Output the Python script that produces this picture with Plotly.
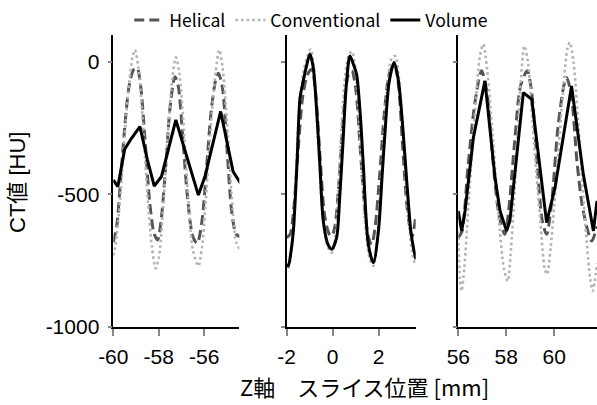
import plotly.graph_objects as go

# ---------------- data ----------------
# Panel 1 (around -58 mm)
p1_hel_x = [-60.0, -59.85, -59.7, -59.5, -59.3, -59.1, -58.95, -58.8, -58.6, -58.4, -58.2, -58.05,
            -57.9, -57.7, -57.5, -57.29, -57.15, -56.95, -56.75, -56.5, -56.31, -56.1, -55.9,
            -55.7, -55.5, -55.38, -55.2, -55.0, -54.8, -54.6, -54.42]
p1_hel_y = [-680, -620, -470, -250, -90, -30, -25, -90, -300, -530, -650, -672,
            -600, -400, -170, -57, -90, -280, -500, -660, -685, -600, -400,
            -190, -70, -44, -100, -330, -560, -650, -660]

p1_con_x = [-60.0, -59.9, -59.7, -59.5, -59.3, -59.15, -59.05, -58.9, -58.7, -58.5, -58.3, -58.14,
            -58.0, -57.8, -57.6, -57.4, -57.25, -57.1, -56.9, -56.7, -56.5, -56.26, -56.1,
            -55.9, -55.7, -55.5, -55.34, -55.2, -55.0, -54.8, -54.6, -54.42]
p1_con_y = [-730, -690, -520, -280, -80, 20, 44, -20, -230, -500, -700, -779,
            -740, -540, -270, -60, 16, -40, -250, -520, -710, -770, -700,
            -480, -230, -40, 44, -20, -230, -500, -680, -710]

p1_vol_x = [-60.0, -59.8, -59.5, -59.2, -58.83, -58.5, -58.2, -57.88, -57.25, -56.8, -56.26,
            -55.97, -55.28, -54.73, -54.4]
p1_vol_y = [-446, -471, -330, -289, -245, -370, -469, -433, -220, -345, -503,
            -433, -188, -415, -459]

# Panel 2 (around 0 mm)
p2_hel_x = [-2.0, -1.85, -1.7, -1.5, -1.3, -1.1, -0.91, -0.75, -0.55, -0.35, -0.15, -0.04,
            0.1, 0.3, 0.5, 0.68, 0.83, 1.0, 1.2, 1.4, 1.55, 1.7, 1.85, 2.05, 2.25, 2.45,
            2.67, 2.85, 3.05, 3.25, 3.45, 3.62]
p2_hel_y = [-663, -650, -560, -330, -130, -50, -29, -110, -360, -580, -650, -657,
            -620, -420, -170, -50, -35, -100, -330, -560, -660, -688, -620, -420, -190, -50,
            -10, -80, -330, -560, -660, -580]

p2_con_x = [-2.0, -1.93, -1.8, -1.65, -1.45, -1.25, -1.1, -0.96, -0.82, -0.65, -0.45, -0.25,
            -0.04, 0.12, 0.3, 0.5, 0.68, 0.83, 1.0, 1.2, 1.4, 1.6, 1.77, 1.95, 2.15, 2.35,
            2.55, 2.71, 2.88, 3.1, 3.3, 3.5, 3.62]
p2_con_y = [-760, -779, -720, -520, -180, -30, 20, 46, -20, -280, -560, -690,
            -720, -660, -380, -90, 20, 38, -40, -300, -600, -740, -770, -650, -380, -120,
            10, 21, -60, -330, -600, -740, -770]

p2_vol_x = [-2.0, -1.93, -1.82, -1.71, -1.55, -1.42, -1.28, -1.12, -0.99, -0.85, -0.7, -0.55,
            -0.41, -0.2, -0.04, 0.17, 0.3, 0.45, 0.6, 0.75, 0.9, 1.04, 1.2, 1.33, 1.55,
            1.77, 1.99, 2.15, 2.28, 2.45, 2.67, 2.86, 3.05, 3.22, 3.4, 3.51, 3.62]
p2_vol_y = [-764, -770, -720, -638, -380, -136, -73, -10, 28, -20, -180, -400,
            -600, -690, -707, -663, -520, -300, -80, 21, -10, -48, -200, -387, -688,
            -758, -638, -430, -261, -80, -4, -73, -250, -450, -640, -701, -745]

# Panel 3 (around +58 mm)
p3_hel_x = [56.0, 56.15, 56.4, 56.7, 56.97, 57.2, 57.45, 57.7, 57.94, 58.1, 58.35, 58.6,
            58.875, 59.05, 59.3, 59.5, 59.68, 59.9, 60.15, 60.4, 60.51, 60.7, 60.95,
            61.2, 61.56, 61.78]
p3_hel_y = [-663, -640, -400, -150, -35, -120, -380, -580, -651, -560, -300, -90,
            -35, -110, -400, -600, -651, -520, -250, -90, -60, -120, -380,
            -560, -676, -620]

p3_con_x = [56.0, 56.07, 56.14, 56.25, 56.45, 56.7, 56.9, 57.04, 57.2, 57.45, 57.7, 57.9,
            58.06, 58.2, 58.4, 58.6, 58.75, 58.9, 59.15, 59.4, 59.6, 59.7, 59.85, 60.1,
            60.35, 60.55, 60.65, 60.8, 61.05, 61.3, 61.5, 61.6, 61.78]
p3_con_y = [-640, -820, -864, -780, -500, -180, 20, 65, -30, -300, -600, -780,
            -827, -700, -400, -80, 59, 0, -300, -580, -780, -802, -700, -420,
            -130, 50, 72, 0, -300, -620, -820, -864, -760]

p3_vol_x = [56.0, 56.14, 56.28, 56.63, 57.11, 57.53, 57.74, 58.01, 58.15, 58.71, 59.06, 59.4,
            59.68, 60.03, 60.72, 61.21, 61.63, 61.78]
p3_vol_y = [-563, -638, -563, -286, -73, -437, -563, -638, -600, -117, -142, -387,
            -607, -475, -92, -425, -638, -525]

series_names = ["Helical", "Conventional", "Volume"]
x_tick_vals = [[-60, -58, -56], [-2, 0, 2], [56, 58, 60]]
x_tick_text = [["-60", "-58", "-56"], ["-2", "0", "2"], ["56", "58", "60"]]
x_ranges = [[-60, -54.46], [-2, 3.61], [56, 61.78]]
y_tick_vals = [-1000, -500, 0]
y_tick_text = ["-1000", "-500", "0"]
y_range = [-1000, 100]

# ---------------- styles ----------------
W, H = 597, 405
T, B = 35, 78
PH = H - T - B
hel_style = dict(color="#555555", width=3, dash="10px,5px")
con_style = dict(color="#b3b3b3", width=2.6, dash="2.6px,3px")
vol_style = dict(color="#000000", width=3)

panels = [
    (p1_hel_x, p1_hel_y, p1_con_x, p1_con_y, p1_vol_x, p1_vol_y, "linear"),
    (p2_hel_x, p2_hel_y, p2_con_x, p2_con_y, p2_vol_x, p2_vol_y, "spline"),
    (p3_hel_x, p3_hel_y, p3_con_x, p3_con_y, p3_vol_x, p3_vol_y, "linear"),
]

fig = go.Figure()
for i, (hx, hy, cx, cy, vx, vy, vshape) in enumerate(panels):
    xa = "x" if i == 0 else f"x{i+1}"
    ya = "y" if i == 0 else f"y{i+1}"
    show = i == 0
    fig.add_trace(go.Scatter(x=hx, y=hy, mode="lines", name=series_names[0],
                             line=dict(**hel_style, shape="spline", smoothing=0.8),
                             xaxis=xa, yaxis=ya, showlegend=show, legendrank=1))
    fig.add_trace(go.Scatter(x=cx, y=cy, mode="lines", name=series_names[1],
                             line=dict(**con_style, shape="spline", smoothing=0.8),
                             xaxis=xa, yaxis=ya, showlegend=show, legendrank=2))
    fig.add_trace(go.Scatter(x=vx, y=vy, mode="lines", name=series_names[2],
                             line=dict(**vol_style, shape=vshape, smoothing=0.8),
                             xaxis=xa, yaxis=ya, showlegend=show, legendrank=3))

tick_font = dict(family="Liberation Sans, Arial, sans-serif", size=21, color="#000")
domains = [[113.3 / W, 239.3 / W], [286.7 / W, 415.7 / W], [458.3 / W, 1.0]]
common_x = dict(showline=True, linecolor="#000", linewidth=1.5, ticks="outside", ticklen=7,
                tickcolor="#888", tickwidth=1.5, showgrid=False, zeroline=False,
                tickfont=tick_font, automargin=False, ticklabelstandoff=3)
common_y = dict(showline=True, linecolor="#000", linewidth=1.5, ticks="outside", ticklen=4,
                tickcolor="#888", tickwidth=1.5, showgrid=False, zeroline=False,
                range=y_range, tickvals=y_tick_vals, ticktext=y_tick_text,
                tickfont=tick_font, automargin=False, ticklabelstandoff=4)

layout = dict(
    width=W, height=H,
    margin=dict(l=0, r=0, t=T, b=B, autoexpand=False),
    paper_bgcolor="white", plot_bgcolor="white",
    showlegend=True,
    legend=dict(orientation="h", x=0.5214, xanchor="center", y=1 + 15 / PH, yanchor="middle",
                font=dict(family="Noto Sans CJK JP, sans-serif", size=17.6, color="#000"),
                bgcolor="rgba(0,0,0,0)", itemwidth=30, tracegroupgap=0),
)
for i in range(3):
    key = "xaxis" if i == 0 else f"xaxis{i+1}"
    ykey = "yaxis" if i == 0 else f"yaxis{i+1}"
    ya = "y" if i == 0 else f"y{i+1}"
    xa = "x" if i == 0 else f"x{i+1}"
    layout[key] = dict(common_x, domain=domains[i], range=x_ranges[i],
                       tickvals=x_tick_vals[i], ticktext=x_tick_text[i], anchor=ya)
    layout[ykey] = dict(common_y, domain=[0, 1], anchor=xa, showticklabels=(i == 0))

fig.update_layout(**layout)

fig.add_annotation(text="CT値 [HU]", xref="paper", yref="paper", x=17 / W, y=1 - (183 - T) / PH,
                   showarrow=False, textangle=-90, xanchor="center", yanchor="middle",
                   font=dict(family="Liberation Sans, Noto Sans CJK JP, sans-serif", size=22, color="#000"))
fig.add_annotation(text="Z軸　スライス位置 [mm]", xref="paper", yref="paper", x=365 / W,
                   y=-(386 - (H - B)) / PH,
                   showarrow=False, xanchor="center", yanchor="middle",
                   font=dict(family="Noto Sans CJK JP, sans-serif", size=22, color="#000"))

fig.write_html("out.html")
